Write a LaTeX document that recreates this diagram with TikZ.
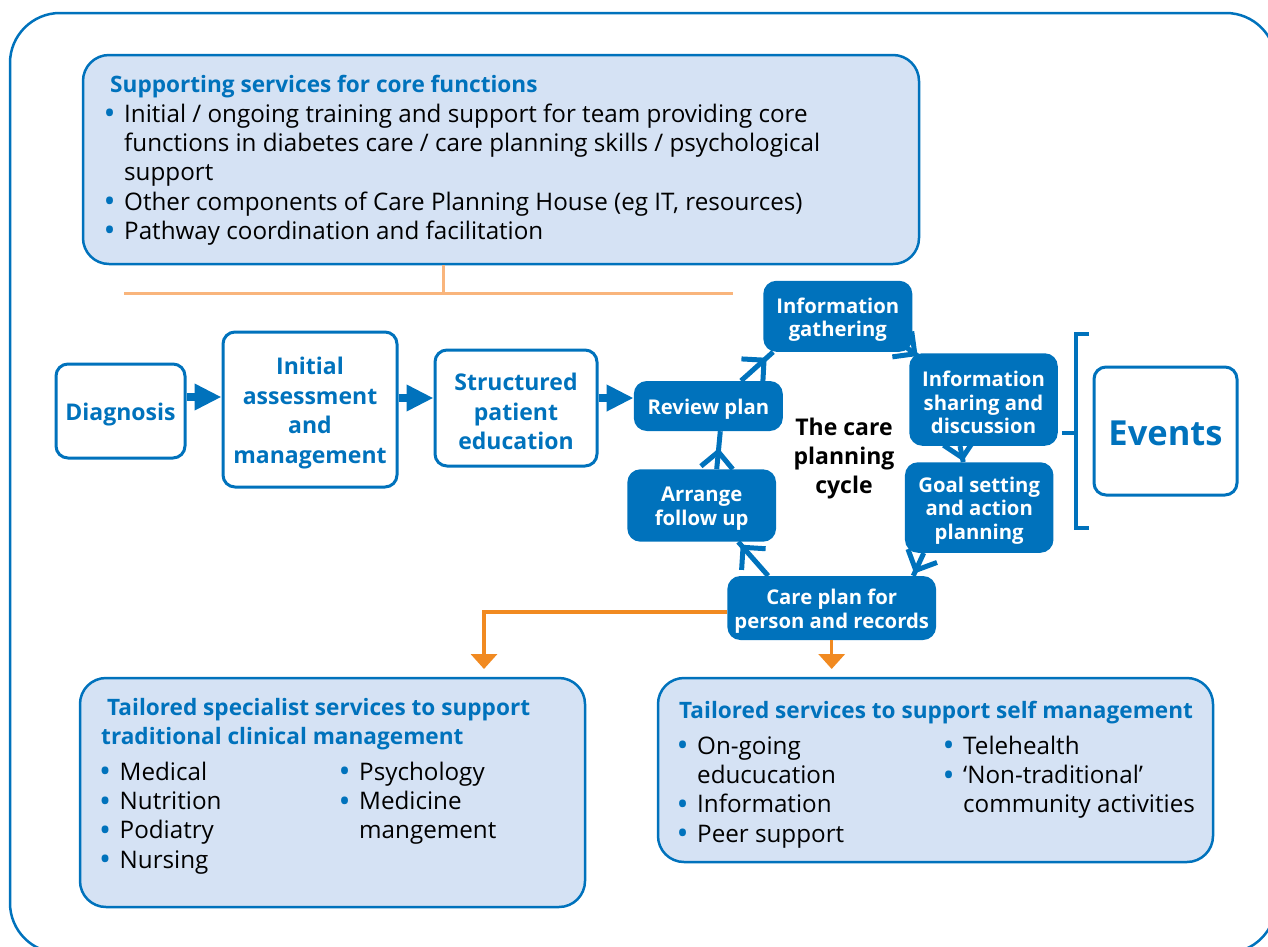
\documentclass[tikz,border=0pt]{standalone}
\usepackage{fontspec}
\setmainfont{Open Sans}
\usetikzlibrary{arrows.meta,decorations.markings}
\definecolor{nblue}{HTML}{0072BC}
\definecolor{lblue}{HTML}{D5E2F4}
\definecolor{lorange}{HTML}{F9B57C}
\definecolor{dorange}{HTML}{F18A21}
\newcommand\mybul{\makebox[14pt][l]{\hspace*{-6.5pt}\raisebox{-2.5pt}{\fontsize{32}{32}\selectfont\textcolor{nblue}{\textbullet}}}}
\newcommand\myind{\hspace*{14pt}}
\tikzset{
  wbox/.style={draw=nblue, line width=3pt, fill=white, rounded corners=12pt, inner sep=0pt},
  wtext/.style={text=nblue, font=\bfseries\fontsize{23}{29.5}\selectfont, align=center, inner sep=0pt},
  cbox/.style={fill=nblue, draw=none, rounded corners=13pt, inner sep=0pt},
  ctext/.style={text=white, font=\bfseries\fontsize{20.3}{23.5}\selectfont, align=center, inner sep=0pt},
  lbox/.style={fill=lblue, draw=nblue, line width=2.5pt, rounded corners=26pt, inner sep=0pt},
  ttl/.style={text=nblue, font=\bfseries\fontsize{22.6}{29}\selectfont, inner sep=0pt, align=left},
  lst/.style={text=black, font=\fontsize{24.2}{29.3}\selectfont, inner sep=0pt, align=left, anchor=north west},
  bigarrow/.style={nblue, line width=8pt, -{Triangle[length=27pt,width=25pt]}},
  cyc/.style={nblue, line width=5pt, postaction={decorate},
    decoration={markings, mark=at position #1 with {\arrow{Straight Barb[length=16pt,width=32pt]}}}},
  cyc/.default=0.92,
  orarrow/.style={dorange, line width=3.5pt, -{Triangle[length=15pt,width=26pt]}},
}
\begin{document}
\begin{tikzpicture}[x=1pt,y=-1pt]
\useasboundingbox (0,0) rectangle (1268,946);
\clip (0,0) rectangle (1268,946);
\draw[nblue, line width=2.5pt, rounded corners=50pt] (10,13) rectangle (1276,953);

% top supporting box
\node[lbox, minimum width=836pt, minimum height=209pt] (top) at (501,159.5) {};
\node[ttl, anchor=base west] (toptitle) at (110,92) {Supporting services for core functions};
\node[lst] (toplist) at (110,101.5) {\strut\mybul Initial / ongoing training and support for team providing core\\
\myind functions in diabetes care / care planning skills / psychological\\
\myind support\\
\mybul Other components of Care Planning House (eg IT, resources)\\
\mybul Pathway coordination and facilitation};

% light orange connector
\coordinate (oj) at (443,293);
\coordinate (oL) at (124,293);
\coordinate (oR) at (733,293);
\draw[lorange, line width=3pt] (top.south -| oj) -- (oj);
\draw[lorange, line width=3pt] (oL) -- (oR);

% pathway boxes
\node[wbox, minimum width=129pt, minimum height=94pt] (diag) at (120.5,411) {};
\node[wtext] (diagT) at ([shift={(0,3.5)}]diag.center) {Diagnosis};
\node[wbox, minimum width=174pt, minimum height=155pt] (init) at (310,409.5) {};
\node[wtext] (initT) at ([shift={(0,3.5)}]init.center) {Initial\\assessment\\and\\management};
\node[wbox, minimum width=162pt, minimum height=116pt] (struct) at (516,408) {};
\node[wtext] (structT) at ([shift={(0,3.5)}]struct.center) {Structured\\patient\\education};

% cycle boxes
\node[cbox, minimum width=149pt, minimum height=50pt] (review) at (708.3,406) {};
\node[ctext] (reviewT) at ([shift={(0,3)}]review.center) {Review plan};
\node[cbox, minimum width=149pt, minimum height=71pt] (gather) at (837.8,316.3) {};
\node[ctext] (gatherT) at ([shift={(0,3.5)}]gather.center) {Information\\gathering};
\node[cbox, minimum width=148.5pt, minimum height=92.5pt] (share) at (983.5,399.5) {};
\node[ctext] (shareT) at ([shift={(0,3)}]share.center) {Information\\sharing and\\discussion};
\node[cbox, minimum width=148.5pt, minimum height=90.5pt] (goal) at (979.2,507.5) {};
\node[ctext] (goalT) at ([shift={(0,3)}]goal.center) {Goal setting\\and action\\planning};
\node[cbox, minimum width=208.7pt, minimum height=64pt] (care) at (831.7,608) {};
\node[ctext] (careT) at ([shift={(0,3)}]care.center) {Care plan for\\person and records};
\node[cbox, minimum width=148.7pt, minimum height=72.4pt] (arrange) at (701.7,505.5) {};
\node[ctext] (arrangeT) at ([shift={(0,3)}]arrange.center) {Arrange\\follow up};
\node[font=\bfseries\fontsize{23}{29}\selectfont, align=center, inner sep=0pt] (cyctext) at (844,459) {The care\\planning\\cycle};

% main flow arrows
\draw[bigarrow] ([shift={(0,-14)}]diag.east) -- ([shift={(0,-14)}]diag.east -| init.west);
\draw[bigarrow] ([shift={(0,-11.5)}]init.east) -- ([shift={(0,-11.5)}]init.east -| struct.west);
\draw[bigarrow] ([shift={(0,-10)}]struct.east) -- ([shift={(0,-10)}]struct.east -| review.west);

% cycle arrows
\draw[cyc=0.8] ([shift={(-42,0)}]review.north east) -- ([shift={(10,0)}]gather.south west);
\draw[cyc=0.9] ([shift={(-8,-6)}]gather.south east) -- ([shift={(10,4)}]share.north west);
\draw[cyc=0.95] ([shift={(-23.5,0)}]share.south) -- ([shift={(-16,0)}]goal.north);
\draw[cyc=0.9] ([shift={(19,0)}]goal.south west) -- ([shift={(-23,0)}]care.north east);
\draw[cyc=0.92] ([shift={(41,0)}]care.north west) -- ([shift={(-38,0)}]arrange.south east);
\draw[cyc=0.55] ([shift={(15,0)}]arrange.north) -- ([shift={(12,0)}]review.south);

% events bracket
\coordinate (bt) at (1089,334);
\coordinate (bb) at (1089,528);
\coordinate (bm) at (1076,433);
\draw[nblue, line width=4pt, line join=miter] (bt) -- (1076,334) -- (1076,528) -- (bb);
\draw[nblue, line width=4pt] ([shift={(4,33.5)}]share.east) -- (bm);
\node[wbox, minimum width=143pt, minimum height=128pt] (events) at (1165.5,431) {};
\node[wtext, font=\bfseries\fontsize{34.5}{40}\selectfont] (eventsT) at ([shift={(0,2.5)}]events.center) {Events};

% bottom boxes
\node[lbox, minimum width=505pt, minimum height=229pt] (bl) at (332.5,792.5) {};
\node[lbox, minimum width=555pt, minimum height=184pt] (br) at (935.5,770) {};

% orange arrows
\coordinate (oc) at (484,612);
\draw[orarrow] ([shift={(0,4)}]care.west) -- (oc) -- (oc |- 0,669);
\draw[orarrow] (care.south) -- (care.south |- 0,669);

% bottom left text
\node[ttl, anchor=north west] (bltitle) at (101,694.7) {\strut\hspace{6pt}Tailored specialist services to support\\traditional clinical management};
\node[lst] (bllist1) at (105.5,759.5) {\strut\mybul Medical\\\mybul Nutrition\\\mybul Podiatry\\\mybul Nursing};
\node[lst] (bllist2) at (345,759.5) {\strut\mybul Psychology\\\mybul Medicine\\\myind mangement};

% bottom right text
\node[ttl, anchor=base west] (brtitle) at (679,718) {Tailored services to support self management};
\node[lst] (brlist1) at (683,733.5) {\strut\mybul On-going\\\myind educucation\\\mybul Information\\\mybul Peer support};
\node[lst] (brlist2) at (949,733.5) {\strut\mybul Telehealth\\\mybul ‘Non-traditional’\\\myind community activities};
\end{tikzpicture}
\end{document}
